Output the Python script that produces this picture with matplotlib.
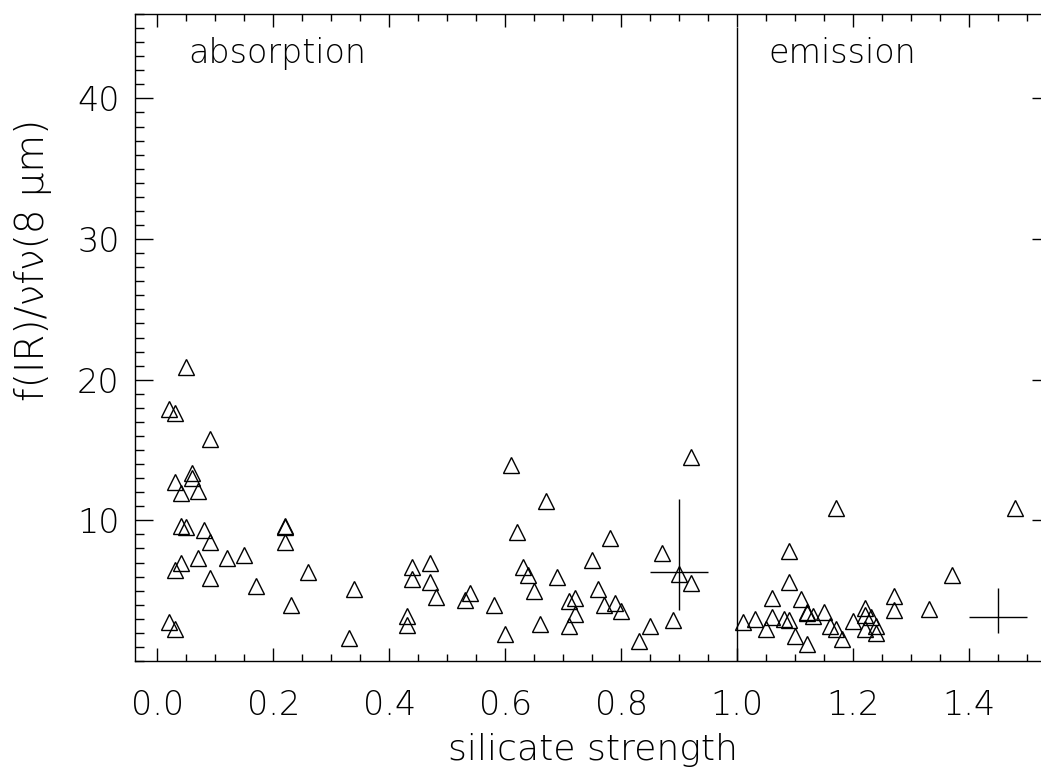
import numpy as np
import matplotlib
matplotlib.use('Agg')
from matplotlib import pyplot as plt
from matplotlib.ticker import MultipleLocator, FixedLocator, FormatStrFormatter

# absorption side (silicate strength < 1)
abs_x = [0.05, 0.02, 0.03, 0.09, 0.06, 0.06, 0.03, 0.07, 0.04, 0.04, 0.05, 0.08,
         0.22, 0.22, 0.09, 0.22, 0.07, 0.12, 0.15, 0.04, 0.03, 0.26, 0.09, 0.17,
         0.23, 0.02, 0.03, 0.34, 0.33, 0.44, 0.47, 0.44, 0.47, 0.48, 0.54, 0.53,
         0.58, 0.43, 0.43, 0.60, 0.62, 0.61, 0.92, 0.67, 0.78, 0.87, 0.75, 0.63,
         0.64, 0.69, 0.90, 0.92, 0.65, 0.76, 0.72, 0.71, 0.77, 0.79, 0.80, 0.72,
         0.66, 0.71, 0.85, 0.89, 0.83]
abs_y = [20.9, 17.9, 17.6, 15.8, 13.4, 13.0, 12.7, 12.1, 11.95, 9.6, 9.5, 9.3,
         9.6, 9.55, 8.45, 8.45, 7.35, 7.35, 7.55, 7.0, 6.45, 6.35, 5.9, 5.3,
         3.95, 2.8, 2.3, 5.15, 1.65, 6.7, 7.0, 5.8, 5.65, 4.55, 4.85, 4.35,
         4.0, 3.2, 2.55, 1.9, 9.15, 13.9, 14.5, 11.4, 8.75, 7.7, 7.15, 6.7,
         6.1, 6.0, 6.2, 5.55, 5.0, 5.15, 4.5, 4.25, 3.95, 4.15, 3.55, 3.35,
         2.6, 2.5, 2.5, 2.9, 1.45]

# emission side (silicate strength > 1)
emi_x = [1.17, 1.48, 1.09, 1.37, 1.09, 1.06, 1.11, 1.27, 1.27, 1.33, 1.22, 1.01,
         1.03, 1.06, 1.05, 1.08, 1.09, 1.12, 1.12, 1.13, 1.15, 1.10, 1.12, 1.16,
         1.17, 1.18, 1.20, 1.22, 1.23, 1.22, 1.24, 1.24]
emi_y = [10.9, 10.9, 7.8, 6.1, 5.6, 4.5, 4.4, 4.65, 3.65, 3.7, 3.8, 2.75,
         3.0, 3.15, 2.3, 3.0, 2.95, 3.45, 3.4, 3.2, 3.5, 1.75, 1.2, 2.5,
         2.25, 1.55, 2.85, 3.25, 3.1, 2.25, 2.5, 2.0]

# typical error bars for each group
err_x = [0.90, 1.45]
err_y = [6.3, 3.15]
err_dx = [0.05, 0.05]
err_dy_low = [2.7, 1.13]
err_dy_high = [5.2, 2.03]

divide_x = 1.0
divide_top = 45.0

x_ticks = [0.0, 0.2, 0.4, 0.6, 0.8, 1.0, 1.2, 1.4]
y_ticks = [10, 20, 30, 40]

W, H = 1041, 771
fig = plt.figure(figsize=(W / 100, H / 100), dpi=100)
ax = fig.add_axes([135 / W, 1 - 661 / H, 915 / W, 647 / H])

ax.plot(abs_x, abs_y, ls='none', marker='^', ms=12.2, mfc='none', mec='black', mew=1.0)
ax.plot(emi_x, emi_y, ls='none', marker='^', ms=12.2, mfc='none', mec='black', mew=1.0)
ax.errorbar(err_x, err_y, xerr=err_dx, yerr=[err_dy_low, err_dy_high],
            fmt='none', ecolor='black', elinewidth=1.0, capsize=0)
ax.plot([divide_x, divide_x], [0, divide_top], color='black', lw=1.0)

ax.set_xlim(-0.0385, 1.5395)
ax.set_ylim(0, 46)

ax.xaxis.set_major_locator(FixedLocator(x_ticks))
ax.xaxis.set_minor_locator(MultipleLocator(0.05))
ax.xaxis.set_major_formatter(FormatStrFormatter('%.1f'))
ax.yaxis.set_major_locator(FixedLocator(y_ticks))
ax.yaxis.set_minor_locator(MultipleLocator(1))

ax.tick_params(which='both', direction='in', top=True, right=True, width=1.0, colors='black')
ax.tick_params(axis='x', which='major', length=9.4, pad=20)
ax.tick_params(axis='x', which='minor', length=5)
ax.tick_params(axis='y', which='major', length=13, pad=11)
ax.tick_params(axis='y', which='minor', length=6.5)
for lab in ax.get_xticklabels() + ax.get_yticklabels():
    lab.set_fontsize(24)
    lab.set_fontweight(200)
for s in ax.spines.values():
    s.set_linewidth(1.0)

ax.set_xlabel('silicate strength', fontsize=26, fontweight=200)
ax.xaxis.set_label_coords(0.5, -0.112)
ax.set_ylabel('f(IR)/νfν(8 μm)', fontsize=28, fontweight=200)
ax.yaxis.set_label_coords(-0.091, 0.62)

ax.text(0.053, 42.5, 'absorption', fontsize=24, fontweight=200, va='baseline')
ax.text(1.053, 42.5, 'emission', fontsize=24, fontweight=200, va='baseline')

fig.savefig('out.png', dpi=100)
